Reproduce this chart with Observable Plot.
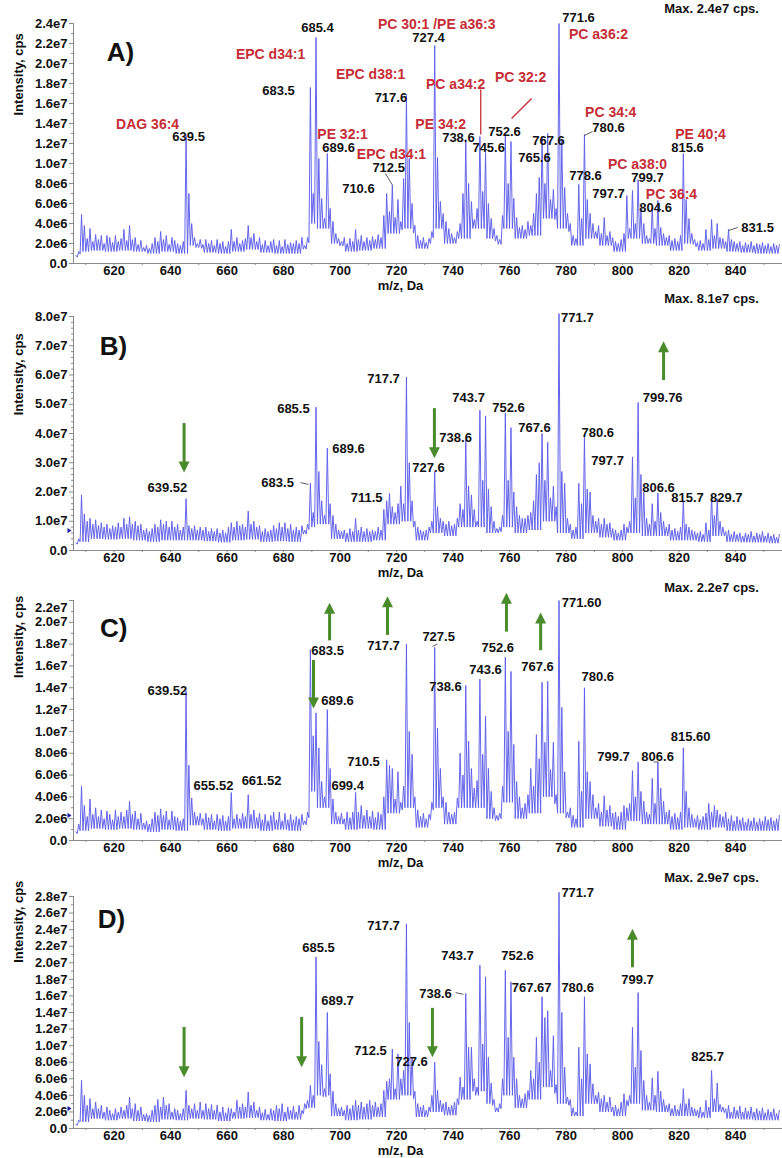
<!DOCTYPE html>
<html>
<head>
<meta charset="utf-8">
<script src="https://cdn.jsdelivr.net/npm/d3@7"></script>
<script src="https://cdn.jsdelivr.net/npm/@observablehq/plot@0.6"></script>
<style>
  html, body { margin: 0; padding: 0; background: #fff; }
  #chart { width: 782px; }
  #chart svg { display: block; overflow: visible; }
</style>
</head>
<body>
<div id="chart"></div>
<script>
// ---------------- DATA ----------------
// Centroids on the m/z axis: 606.5, 607.5, ... 855.5 (one per Da)
const mzFirst = 606.5;
const mzCount = 250;
// Trough windows: 5-Da windows starting at 606
const windowStart = 606, windowWidth = 5;

// Peak heights, millions of cps (606.5 ... 855.5)
const intensityA = [
  0.8, 1.2, 4.9, 3.8, 2.5, 3.5, 2.2, 2.9, 2.4, 2.8,
  2.0, 2.8, 2.6, 2.1, 2.8, 2.2, 2.5, 3.4, 2.3, 3.8,
  2.4, 2.6, 1.9, 2.3, 1.6, 1.8, 1.5, 2.0, 2.6, 2.2,
  3.2, 2.4, 2.8, 1.9, 2.6, 2.3, 2.0, 1.8, 2.2, 12.8,
  7.0, 4.0, 2.6, 2.0, 2.4, 1.9, 2.4, 2.0, 2.3, 1.8,
  2.4, 2.0, 2.2, 1.7, 2.2, 3.4, 2.2, 2.6, 2.0, 2.3,
  2.5, 3.8, 2.6, 3.0, 2.2, 2.6, 1.9, 2.3, 1.8, 2.2,
  2.4, 1.8, 2.3, 1.7, 2.4, 1.9, 2.1, 2.0, 2.3, 2.0,
  2.6, 1.8, 2.6, 17.6, 7.0, 22.6, 10.5, 6.5, 4.5, 11.0,
  5.5, 4.2, 3.0, 2.5, 2.2, 2.6, 2.0, 2.5, 2.2, 3.4,
  2.4, 2.8, 2.2, 2.6, 2.3, 2.7, 2.4, 2.9, 2.6, 4.8,
  7.0, 5.2, 7.8, 4.6, 6.4, 4.2, 8.5, 16.8, 10.5, 6.0,
  3.8, 2.8, 2.3, 2.6, 2.1, 2.5, 3.2, 21.8, 10.6, 6.2,
  5.0, 4.2, 3.5, 3.0, 2.6, 3.2, 4.0, 7.0, 12.4, 8.0,
  6.2, 4.4, 5.5, 12.7, 7.2, 11.1, 6.0, 4.5, 3.5, 2.8,
  2.4, 4.8, 12.9, 8.0, 12.2, 6.5, 4.6, 3.6, 3.8, 3.4,
  4.2, 3.8, 5.0, 7.0, 8.6, 12.7, 8.0, 13.0, 6.4, 7.4,
  5.5, 24.0, 12.3, 7.6, 5.0, 4.0, 2.8, 2.5, 7.9, 4.5,
  12.9, 6.4, 5.0, 4.0, 3.2, 3.8, 3.0, 4.6, 2.8, 3.2,
  2.6, 2.2, 2.0, 2.4, 3.0, 6.8, 3.5, 7.3, 4.0, 8.4,
  5.4, 4.0, 2.8, 2.5, 5.6, 3.5, 6.3, 3.6, 3.0, 2.6,
  2.8, 2.3, 2.5, 2.2, 2.8, 11.0, 6.4, 4.5, 3.0, 2.4,
  2.1, 2.3, 2.0, 3.4, 2.4, 4.4, 2.8, 4.0, 2.6, 2.5,
  2.2, 3.4, 2.4, 2.2, 2.0, 2.2, 1.8, 2.1, 1.9, 2.2,
  1.8, 2.0, 1.9, 2.1, 1.8, 2.0, 1.7, 2.0, 1.8, 1.9
];
const intensityB = [
  2.7, 4.0, 19.0, 12.5, 10.0, 11.0, 9.0, 10.5, 8.5, 9.5,
  8.0, 9.0, 7.5, 8.5, 8.0, 9.5, 8.0, 11.0, 9.0, 11.5,
  9.0, 10.0, 8.5, 9.0, 7.0, 7.5, 6.5, 7.5, 9.0, 8.0,
  10.5, 9.0, 10.0, 8.0, 10.0, 8.0, 9.0, 7.0, 8.0, 17.7,
  8.5, 7.5, 8.5, 7.0, 8.0, 7.0, 8.0, 6.5, 7.5, 6.5,
  7.5, 6.0, 7.0, 6.0, 8.0, 9.5, 8.0, 10.0, 8.5, 9.0,
  8.0, 13.5, 9.0, 10.0, 8.0, 8.5, 6.5, 7.5, 6.5, 7.0,
  8.5, 7.5, 9.5, 8.0, 9.5, 7.5, 9.0, 7.0, 8.0, 7.0,
  8.5, 7.0, 9.0, 23.0, 13.0, 49.0, 27.0, 17.0, 12.0, 35.0,
  16.0, 12.0, 9.0, 7.0, 6.5, 7.0, 6.0, 7.5, 6.5, 11.0,
  7.0, 8.0, 6.5, 7.5, 6.5, 7.0, 6.5, 8.0, 7.0, 14.0,
  17.0, 19.5, 15.0, 13.0, 16.0, 22.0, 16.0, 59.3, 30.0, 17.0,
  10.0, 8.0, 7.0, 6.5, 7.0, 8.0, 10.0, 27.0, 15.0, 11.0,
  10.0, 9.0, 10.0, 8.5, 9.0, 11.0, 16.0, 14.0, 38.0, 22.0,
  19.0, 14.0, 10.0, 48.0, 24.0, 46.0, 21.0, 15.0, 10.0, 7.5,
  8.0, 12.0, 47.0, 24.0, 42.0, 20.0, 15.0, 12.0, 11.0, 11.0,
  12.0, 13.0, 17.0, 26.0, 30.0, 40.0, 24.0, 37.0, 18.0, 22.0,
  15.0, 81.0, 27.0, 23.0, 11.0, 9.0, 7.0, 8.0, 23.0, 16.0,
  39.0, 21.0, 20.0, 12.0, 10.0, 11.0, 9.0, 11.0, 9.0, 9.5,
  7.5, 7.0, 6.0, 7.0, 9.0, 8.0, 10.0, 32.0, 18.0, 50.6,
  26.0, 20.0, 11.0, 9.0, 16.0, 10.0, 19.6, 13.0, 10.0, 8.0,
  9.0, 7.0, 7.5, 6.5, 8.0, 16.9, 9.0, 8.0, 7.0, 6.5,
  6.0, 6.5, 5.5, 9.5, 7.0, 19.0, 12.0, 17.7, 10.0, 8.0,
  6.5, 7.0, 5.5, 6.5, 5.5, 6.0, 5.0, 6.0, 5.5, 6.5,
  5.0, 6.0, 5.5, 6.5, 5.0, 6.0, 5.0, 5.5, 4.5, 5.5
];
const intensityC = [
  0.8, 1.5, 5.0, 3.2, 2.2, 3.8, 2.4, 3.0, 2.2, 2.8,
  2.0, 2.7, 2.4, 1.9, 2.8, 2.2, 2.6, 2.2, 2.8, 3.6,
  2.4, 2.7, 2.0, 2.5, 1.6, 1.8, 1.5, 2.0, 2.6, 2.3,
  2.9, 2.3, 2.7, 1.9, 2.7, 2.2, 2.1, 1.8, 2.0, 13.7,
  6.9, 3.9, 2.6, 2.2, 2.5, 2.0, 2.5, 2.1, 2.4, 1.8,
  2.4, 2.0, 2.3, 1.8, 2.2, 4.4, 2.0, 2.4, 2.0, 2.5,
  2.2, 4.2, 2.4, 2.8, 2.1, 2.5, 1.9, 2.4, 1.8, 2.3,
  2.6, 1.9, 2.6, 1.8, 2.5, 1.9, 2.4, 1.9, 2.2, 2.0,
  2.4, 1.8, 2.6, 17.5, 9.6, 11.7, 8.5, 5.4, 4.0, 12.0,
  6.6, 3.8, 2.6, 2.2, 2.5, 2.0, 2.6, 2.1, 2.6, 4.4,
  2.6, 3.2, 2.3, 2.8, 2.2, 2.7, 2.1, 2.6, 2.4, 4.0,
  7.4, 6.9, 6.6, 3.8, 6.3, 3.5, 5.0, 18.0, 10.0, 7.9,
  4.0, 2.8, 2.2, 2.5, 2.0, 2.4, 3.5, 17.7, 10.3, 6.6,
  4.0, 3.5, 2.6, 2.4, 2.6, 3.9, 8.0, 6.0, 14.2, 9.1,
  6.6, 4.8, 5.5, 14.8, 7.9, 11.4, 6.6, 4.5, 3.0, 2.3,
  2.5, 5.0, 16.8, 10.0, 15.5, 8.8, 5.4, 4.0, 3.0, 3.4,
  4.2, 6.6, 5.0, 9.7, 7.5, 14.5, 9.0, 14.6, 6.5, 9.0,
  4.2, 22.0, 12.2, 6.3, 2.6, 3.0, 2.3, 2.0, 9.1, 4.5,
  14.0, 6.3, 5.4, 4.2, 3.0, 3.4, 2.6, 4.1, 2.8, 3.2,
  2.5, 2.6, 2.2, 2.6, 3.2, 3.0, 3.4, 6.4, 4.0, 7.2,
  4.5, 3.6, 2.6, 2.4, 5.7, 3.4, 7.2, 4.8, 3.6, 2.6,
  2.8, 2.2, 2.5, 2.1, 2.6, 8.5, 4.5, 3.0, 2.4, 2.0,
  2.3, 1.9, 2.2, 2.5, 3.4, 2.6, 3.2, 2.8, 2.4, 2.2,
  2.6, 2.0, 2.3, 1.8, 2.2, 1.9, 2.1, 1.7, 2.0, 1.8,
  2.1, 1.7, 2.0, 1.8, 2.2, 1.9, 2.1, 1.8, 2.0, 2.3
];
const intensityD = [
  0.5, 1.0, 5.8, 4.0, 2.8, 3.6, 2.4, 3.2, 2.4, 2.8,
  2.0, 2.6, 2.2, 1.8, 2.4, 2.0, 2.6, 2.2, 2.8, 3.8,
  2.4, 3.0, 2.2, 2.6, 1.7, 1.8, 1.6, 2.2, 2.8, 3.5,
  2.6, 3.8, 2.8, 3.0, 2.0, 2.4, 2.2, 1.8, 2.4, 4.6,
  2.8, 2.4, 3.0, 2.2, 3.2, 2.2, 3.0, 2.4, 2.9, 2.2,
  2.8, 2.0, 2.6, 1.9, 2.5, 2.4, 2.0, 3.4, 2.6, 3.0,
  2.6, 4.4, 2.8, 3.2, 2.2, 2.6, 1.9, 2.3, 1.7, 2.4,
  2.2, 2.8, 2.4, 3.0, 2.0, 2.6, 2.2, 2.7, 2.0, 2.8,
  2.2, 3.0, 3.4, 5.2, 4.0, 20.7, 10.5, 7.7, 4.8, 14.0,
  6.6, 4.5, 3.0, 2.4, 2.6, 2.2, 2.8, 2.4, 2.8, 3.4,
  2.8, 3.2, 2.6, 3.0, 3.4, 2.8, 3.2, 2.6, 3.0, 4.6,
  5.7, 6.0, 9.6, 4.8, 9.0, 6.0, 7.0, 24.7, 12.8, 8.6,
  4.5, 3.0, 2.6, 2.8, 2.2, 2.6, 4.0, 8.0, 4.6, 3.4,
  3.0, 3.2, 2.6, 2.8, 3.2, 3.6, 6.2, 5.0, 16.3, 9.8,
  9.8, 6.0, 5.0, 19.7, 10.2, 18.3, 8.6, 5.5, 3.5, 2.5,
  3.0, 6.0, 19.1, 11.0, 17.7, 8.6, 6.0, 4.0, 3.6, 4.2,
  4.6, 7.0, 6.0, 11.0, 8.0, 15.9, 13.4, 14.2, 7.0, 11.2,
  5.3, 28.5, 14.0, 7.4, 3.8, 3.5, 2.5, 2.0, 9.8, 6.0,
  15.9, 9.0, 7.8, 5.4, 4.0, 4.4, 3.6, 4.0, 3.2, 3.8,
  2.6, 2.8, 2.4, 3.2, 4.2, 3.4, 4.0, 12.2, 7.4, 16.4,
  9.4, 5.8, 4.0, 3.2, 6.1, 4.0, 6.9, 4.5, 3.5, 2.8,
  3.0, 2.4, 2.8, 2.3, 3.0, 4.8, 3.0, 3.6, 2.6, 2.4,
  2.2, 2.6, 2.0, 3.4, 2.6, 7.0, 3.6, 5.5, 2.9, 2.6,
  2.4, 2.8, 2.0, 2.6, 2.2, 2.7, 2.0, 2.5, 2.1, 2.6,
  2.0, 2.4, 2.1, 2.5, 1.9, 2.3, 2.0, 2.4, 1.8, 2.2
];

// Trough level between neighbouring peaks, millions of cps, one per 5-Da window (606-610, 611-615, ...)
const troughA = [1.2,1.3,1.2,1.3,1.2,1.0,1.2,1.0,1.8,1.1, 1.0,1.2,1.4,1.1,1.0,1.0,4.0,3.5,2.0,1.2,
                 1.3,1.5,3.0,3.5,1.5,3.5,2.0,2.5,3.5,2.5, 3.5,2.5,2.8,4.5,3.5,1.8,2.5,1.8,1.2,2.5,
                 2.0,1.8,1.3,2.0,1.3,1.5,1.2,1.1,1.0,1.0];
const troughB = [3.0,4.0,3.8,4.0,3.5,3.0,3.5,3.5,3.5,3.2, 2.8,3.5,3.8,3.0,3.2,3.0,8.0,9.0,4.0,3.0,
                 3.0,3.5,9.0,10.0,3.5,6.0,5.0,8.0,8.0,6.0, 8.0,6.0,7.0,10.0,6.0,4.0,6.0,4.5,3.5,6.0,
                 5.0,5.0,3.5,3.5,3.0,5.0,3.0,2.8,2.8,2.5];
const troughC = [0.9,1.1,1.0,1.1,1.0,0.8,1.0,0.9,1.4,1.0, 0.9,1.1,1.1,0.9,1.0,0.9,4.5,3.0,1.5,1.0,
                 1.1,1.0,2.5,3.0,1.2,3.0,1.5,3.0,3.0,2.0, 3.5,2.0,2.5,4.0,2.5,1.2,2.0,1.3,1.0,1.8,
                 1.5,1.5,1.0,1.2,1.0,1.2,0.9,0.9,0.9,0.9];
const troughD = [0.8,1.2,1.0,1.2,0.9,0.8,1.1,1.0,1.2,1.1, 0.9,1.2,1.3,1.0,0.9,1.1,2.5,4.0,1.5,1.0,
                 1.1,1.4,3.5,4.0,1.4,2.0,1.6,3.5,4.5,3.0, 4.0,2.5,3.5,5.0,3.0,1.5,3.0,2.0,1.5,3.0,
                 2.2,2.0,1.5,1.5,1.3,2.0,1.2,1.1,1.0,1.0];

// Axes
const xTicks = [620, 640, 660, 680, 700, 720, 740, 760, 780, 800, 820, 840];
const yTicksA = [0, 2, 4, 6, 8, 10, 12, 14, 16, 18, 20, 22, 24];          // millions
const yTicksB = [0, 10, 20, 30, 40, 50, 60, 70, 80];
const yTicksC = [0, 2, 4, 6, 8, 10, 12, 14, 16, 18, 20, 22];
const yTicksD = [0, 2, 4, 6, 8, 10, 12, 14, 16, 18, 20, 22, 24, 26, 28];
const xTitle = "m/z, Da";
const yTitle = "Intensity, cps";

// Panel letters and max notes: [text, m/z, intensity (millions)]
const panelLetters = [["A)", 622.3, 21.1], ["B)", 619.8, 69.7], ["C)", 619.9, 19.4], ["D)", 619.1, 25.2]];
const maxNotes = [["Max. 2.4e7 cps.", 831.5, 25.5], ["Max. 8.1e7 cps.", 831.5, 86.2],
                  ["Max. 2.2e7 cps.", 831.5, 23.2], ["Max. 2.9e7 cps.", 831.5, 30.3]];
const yTitleAt = [14.8, 46.2, 14.9, 20.0];
const xTitleAt = 721.4;
const axisMarkerAt = [null, 6.8, 2.3, 2.4];

// Peak annotations: [text, m/z anchor, intensity anchor (millions)]
const numLabelsA = [["639.5",646.4,12.7],["683.5",678.2,17.3],["685.4",692.0,23.6],["727.4",731.3,22.6],
  ["717.6",718.0,16.6],["738.6",741.9,12.6],["745.6",752.6,11.6],["752.6",758.2,13.2],["767.6",773.8,12.3],
  ["765.6",768.8,10.6],["689.6",699.5,11.6],["712.5",717.2,9.6],["710.6",706.5,7.5],["771.6",784.4,24.6],
  ["780.6",795.0,13.6],["815.6",823.0,11.6],["778.6",786.9,8.8],["799.7",808.8,8.6],["797.7",795.0,7.0],
  ["804.6",811.7,5.6],["831.5",847.8,3.6]];
const nameLabelsA = [["DAG 36:4",631.9,13.9],["EPC d34:1",675.4,20.9],["PC 30:1 /PE a36:3",734.2,23.9],
  ["EPC d38:1",710.8,18.9],["PC a34:2",740.9,17.9],["PC 32:2",763.9,18.6],["PE 34:2",735.6,13.9],
  ["PE 32:1",700.9,12.9],["EPC d34:1",718.2,10.9],["PC a36:2",791.5,22.9],["PC 34:4",795.8,15.1],
  ["PE 40;4",827.6,12.9],["PC a38:0",805.3,9.9],["PC 36:4",817.3,6.9]];
const redLinesA = [[749.8,17.4,749.8,12.9],[760.7,14.5,767.8,16.5]];
const leadersA = [[716.1,9.0,718.6,7.8],[786.5,12.8,789.4,13.2],[837.5,3.3,840.7,3.6]];

const numLabelsB = [["639.52",638.9,21.5],["683.5",677.9,23.2],["685.5",683.5,48.5],["689.6",703.0,34.9],
  ["711.5",709.4,18.1],["717.7",715.4,58.8],["727.6",731.3,28.4],["738.6",740.9,38.6],["743.7",745.5,52.3],
  ["752.6",759.6,48.9],["767.6",768.8,42.1],["771.7",784.0,79.7],["799.76",814.2,52.3],["780.6",791.2,40.3],
  ["797.7",794.7,30.8],["806.6",812.7,21.5],["815.7",823.0,18.1],["829.7",836.7,18.1]];
const leadersB = [[686.0,23.2,688.8,22.6]];
// Arrows: [m/z, start intensity, tip intensity] (millions)
const arrowsB = [[644.8,43.4,26.7],[733.4,48.5,31.5],[814.5,58.1,71.5]];

const numLabelsC = [["639.52",638.9,13.7],["655.52",655.2,5.0],["661.52",672.2,5.5],["683.5",695.6,17.4],
  ["689.6",699.1,12.8],["699.4",702.7,5.0],["710.5",708.3,7.2],["717.7",715.4,17.8],["727.5",734.9,18.7],
  ["738.6",737.3,14.1],["743.6",751.5,15.6],["752.6",755.8,17.7],["767.6",769.9,15.9],["771.60",785.5,21.8],
  ["780.6",791.2,15.0],["815.60",824.1,9.5],["799.7",796.8,7.7],["806.6",812.4,7.7]];
const leadersC = [[732.7,17.8,734.5,18.0],[811.0,7.2,812.6,7.2]];
const arrowsC = [[690.6,16.5,12.1],[696.3,18.3,21.8],[716.8,18.8,22.4],[758.9,19.1,22.7],[771.0,17.4,20.9]];

const numLabelsD = [["685.5",692.4,21.8],["689.7",699.1,15.4],["712.5",710.8,9.4],["727.6",725.3,8.0],
  ["717.7",715.4,24.5],["738.6",733.8,16.2],["743.7",741.6,20.9],["752.6",762.8,20.9],["767.67",767.8,17.0],
  ["771.7",784.1,28.4],["780.6",784.1,17.0],["799.7",805.3,17.9],["825.7",830.1,8.6]];
const leadersD = [[740.9,16.4,743.7,16.2]];
const arrowsD = [[644.8,12.2,6.2],[686.4,13.4,7.4],[732.7,14.5,8.6],[803.5,19.4,24.1]];

// ---------------- DRAWING ----------------
const M = 1e6;
const xDomain = [605.66, 856.6];
const lineColor = "#5e5eea", axisColor = "#8a8a8a", red = "#c62d36", green = "#4a8c2c";
const fmt = v => v === 0 ? "0.0" : v.toExponential(1).replace("+", "");
const mzGrid = d3.range(mzCount).map(i => mzFirst + i);

const headUp = {draw(ctx) { ctx.moveTo(0, 0); ctx.lineTo(5.5, 11); ctx.lineTo(-5.5, 11); ctx.closePath(); }};
const headDown = {draw(ctx) { ctx.moveTo(0, 0); ctx.lineTo(5.5, -11); ctx.lineTo(-5.5, -11); ctx.closePath(); }};
const pointer = {draw(ctx) { ctx.moveTo(0, 0); ctx.lineTo(-4, -2.6); ctx.lineTo(-4, 2.6); ctx.closePath(); }};

function spectrumPoints(peaks, trough) {
  const pts = [];
  peaks.forEach((h, i) => {
    const m = mzGrid[i];
    pts.push({mz: m, cps: h * M});
    if (i + 1 < peaks.length) {
      const w = Math.floor((m - windowStart) / windowWidth);
      const t = Math.min(trough[w], 0.8 * Math.min(h, peaks[i + 1]));
      pts.push({mz: m + 0.5, cps: t * M});
    }
  });
  return pts;
}

const panels = [
  {peaks: intensityA, trough: troughA, yMax: 24, yTicks: yTicksA, yMinor: d3.range(1, 24, 2), topShift: 0,
   numbers: numLabelsA, names: nameLabelsA, redLines: redLinesA, leaders: leadersA, arrows: [],
   height: 288, marginTop: 23, marginBottom: 25},
  {peaks: intensityB, trough: troughB, yMax: 80, yTicks: yTicksB, yMinor: d3.range(2, 80, 2).filter(v => v % 10), topShift: 0,
   numbers: numLabelsB, names: [], redLines: [], leaders: leadersB, arrows: arrowsB,
   height: 290, marginTop: 28, marginBottom: 28},
  {peaks: intensityC, trough: troughC, yMax: 22, yTicks: yTicksC, yMinor: d3.range(1, 22, 2), topShift: 7,
   numbers: numLabelsC, names: [], redLines: [], leaders: leadersC, arrows: arrowsC,
   height: 287, marginTop: 22, marginBottom: 25},
  {peaks: intensityD, trough: troughD, yMax: 28, yTicks: yTicksD, yMinor: d3.range(1, 28, 2), topShift: 0,
   numbers: numLabelsD, names: [], redLines: [], leaders: leadersD, arrows: arrowsD,
   height: 293, marginTop: 31, marginBottom: 30}
];

const root = document.getElementById("chart");
panels.forEach((p, k) => {
  const down = p.arrows.filter(a => a[2] < a[1]);
  const up = p.arrows.filter(a => a[2] > a[1]);
  const topV = p.yMax * M;
  const marks = [
    Plot.ruleY([0], {stroke: axisColor}),
    Plot.ruleX([xDomain[0]], {stroke: axisColor}),
    Plot.axisX({ticks: xTicks, tickSize: 2, tickPadding: 0, stroke: axisColor, label: null, tickFormat: d => String(d)}),
    Plot.axisX({ticks: d3.range(610, 856, 20), tickSize: 2, stroke: axisColor, label: null, tickFormat: () => ""}),
    Plot.axisY({ticks: p.yTicks.map(v => v * M), tickSize: 4, tickPadding: 2, stroke: axisColor, label: null,
                tickFormat: v => (p.topShift && v === topV) ? "" : fmt(v)}),
    Plot.axisY({ticks: p.yMinor.map(v => v * M), tickSize: 2, stroke: axisColor, label: null, tickFormat: () => ""}),
    Plot.line(spectrumPoints(p.peaks, p.trough), {x: "mz", y: "cps", stroke: lineColor, strokeWidth: 0.95}),
    Plot.link(p.redLines, {x1: d => d[0], y1: d => d[1] * M, x2: d => d[2], y2: d => d[3] * M, stroke: red, strokeWidth: 1.3}),
    Plot.link(p.leaders, {x1: d => d[0], y1: d => d[1] * M, x2: d => d[2], y2: d => d[3] * M, stroke: "#333", strokeWidth: 0.8}),
    Plot.text(p.names, {x: d => d[1], y: d => d[2] * M, text: d => d[0], fill: red, fontSize: 14}),
    Plot.text(p.numbers, {x: d => d[1], y: d => d[2] * M, text: d => d[0], fill: "#111", fontSize: 13}),
    Plot.ruleX(down, {x: d => d[0], y1: d => d[1] * M, y2: d => d[2] * M, stroke: green, strokeWidth: 3, insetBottom: 8}),
    Plot.ruleX(up, {x: d => d[0], y1: d => d[2] * M, y2: d => d[1] * M, stroke: green, strokeWidth: 3, insetTop: 8}),
    Plot.dot(down, {x: d => d[0], y: d => d[2] * M, symbol: headDown, fill: green, r: 5}),
    Plot.dot(up, {x: d => d[0], y: d => d[2] * M, symbol: headUp, fill: green, r: 5}),
    Plot.text([panelLetters[k]], {x: d => d[1], y: d => d[2] * M, text: d => d[0], fontSize: 26, fill: "#111"}),
    Plot.text([maxNotes[k]], {x: d => d[1], y: d => d[2] * M, text: d => d[0], fontSize: 13, fill: "#111"}),
    Plot.text([yTitle], {y: () => yTitleAt[k] * M, frameAnchor: "left", dx: -55, rotate: -90, text: d => d, fontSize: 13}),
    Plot.text([xTitle], {x: () => xTitleAt, frameAnchor: "bottom", dy: 26, text: d => d, fontSize: 13})
  ];
  if (p.topShift) {
    marks.push(Plot.text([topV], {y: d => d, frameAnchor: "left", dx: -6, dy: p.topShift, textAnchor: "end", text: fmt}));
  }
  if (axisMarkerAt[k] != null) {
    marks.push(Plot.dot([axisMarkerAt[k]], {x: () => xDomain[0], y: d => d * M, symbol: pointer, fill: "#1c1ca0", dx: -2, r: 3}));
  }
  const svg = Plot.plot({
    width: 782, height: p.height,
    marginLeft: 73, marginRight: 0, marginTop: p.marginTop, marginBottom: p.marginBottom,
    x: {domain: xDomain},
    y: {domain: [0, topV]},
    style: {fontFamily: "Arial, 'Liberation Sans', Helvetica, sans-serif", fontSize: "13px", fontWeight: "bold",
            background: "white", overflow: "visible", color: "#111"},
    marks
  });
  root.appendChild(svg);
});
</script>
</body>
</html>
